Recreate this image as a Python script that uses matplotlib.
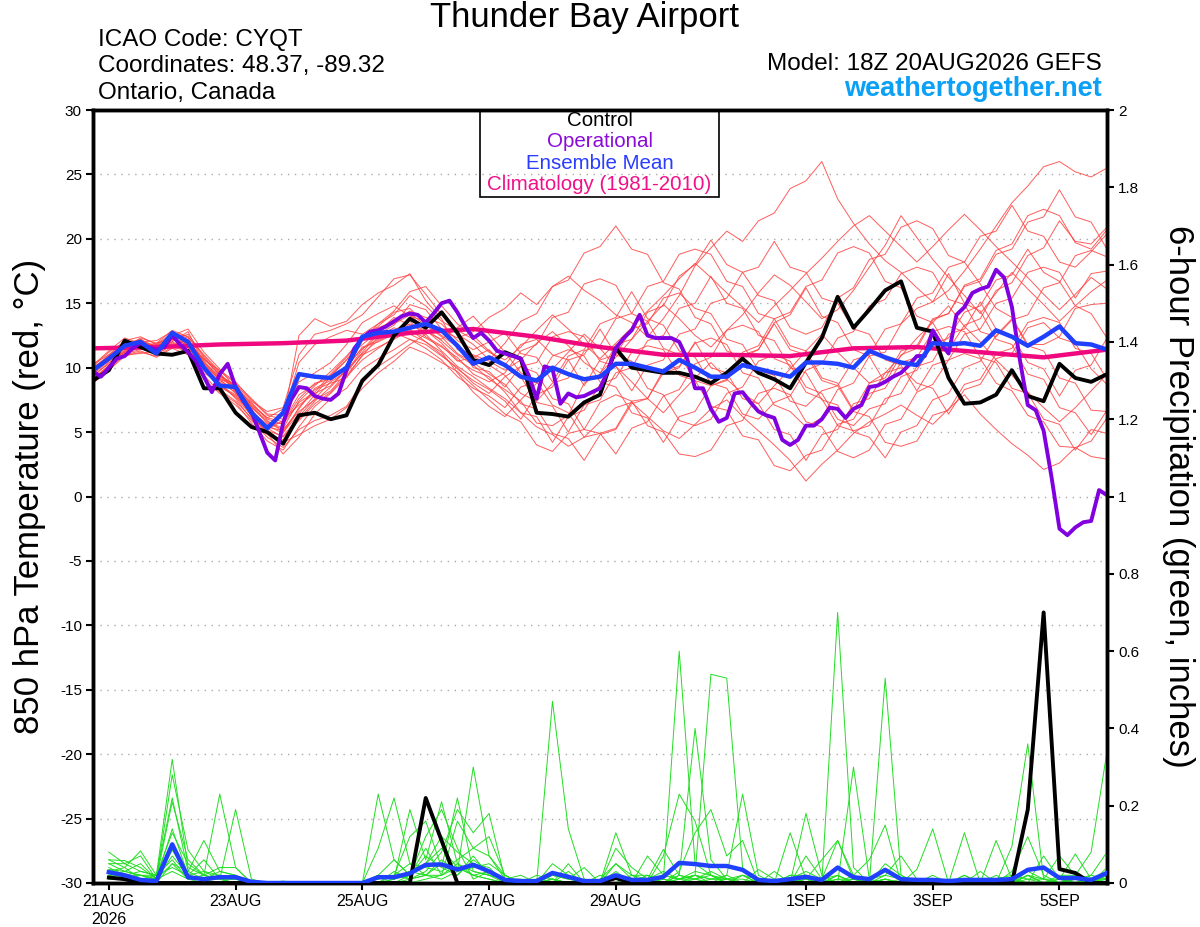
import matplotlib
matplotlib.use("Agg")
import matplotlib.pyplot as plt
from matplotlib.patches import Rectangle

plt.rcParams['font.family'] = ['Liberation Sans', 'DejaVu Sans']
plt.rcParams['axes.unicode_minus'] = False

# time axis: 6-hourly steps from 18Z 20AUG2026 (step 0) to 18Z 5SEP2026 (step 64)
tick_steps = [1, 9, 17, 25, 33, 45, 53, 61]
tick_labels = ["21AUG\n2026", "23AUG", "25AUG", "27AUG", "29AUG", "1SEP", "3SEP", "5SEP"]

# 850 hPa temperature (C), 6-hourly, 65 values
control_t = [9.0, 9.8, 12.1, 11.6, 11.1, 11.0, 11.3, 8.4, 8.4, 6.5, 5.4, 5.0, 4.1,
             6.3, 6.5, 6.0, 6.3, 9.0, 10.2, 12.5, 13.8, 13.1, 14.3, 12.7, 10.6, 10.2,
             11.2, 10.7, 6.5, 6.4, 6.2, 7.3, 7.9, 11.5, 10.0, 9.8, 9.6, 9.6, 9.3,
             8.8, 9.6, 10.7, 9.6, 9.1, 8.4, 10.4, 12.3, 15.5, 13.1, 14.5, 16.0, 16.7,
             13.1, 12.8, 9.2, 7.2, 7.3, 7.9, 9.8, 7.8, 7.4, 10.3, 9.2, 8.9, 9.5]

mean_t = [9.8, 10.7, 11.7, 12.0, 11.1, 12.7, 12.0, 10.0, 8.6, 8.5, 6.5, 5.3, 6.5,
          9.5, 9.3, 9.2, 10.0, 12.4, 12.7, 12.8, 13.1, 13.4, 12.9, 11.7, 10.3, 10.8,
          10.2, 9.3, 9.0, 10.0, 9.5, 9.1, 9.3, 10.3, 10.3, 10.0, 9.7, 10.6, 10.0,
          9.3, 9.3, 10.2, 9.9, 9.6, 9.3, 10.4, 10.4, 10.3, 10.0, 11.3, 10.8, 10.4,
          10.2, 11.9, 11.8, 11.9, 11.7, 12.9, 12.4, 11.7, 12.4, 13.2, 11.9, 11.8, 11.4]

# operational run is 3-hourly, 129 values
oper_t = [9.7, 9.3, 10.0, 10.7, 10.9, 11.5, 11.9, 11.6, 11.4, 11.6, 12.5, 11.8, 11.2,
          10.5, 9.3, 8.1, 9.5, 10.3, 8.5, 7.4, 6.6, 5.0, 3.4, 2.8, 5.7, 7.5,
          8.5, 8.4, 7.8, 7.6, 7.5, 8.0, 9.8, 11.5, 12.3, 12.8, 12.9, 13.2, 13.6,
          14.0, 14.2, 14.1, 13.5, 14.2, 15.0, 15.2, 14.3, 13.2, 12.3, 12.7, 12.1, 11.3,
          11.1, 10.9, 10.7, 9.4, 7.6, 10.1, 9.9, 7.2, 8.0, 7.7, 7.8, 8.1, 8.4,
          9.8, 11.5, 12.3, 12.9, 14.1, 12.5, 12.3, 12.3, 12.3, 12.0, 10.7, 8.4, 8.4,
          6.8, 5.8, 6.1, 8.0, 8.1, 7.3, 6.6, 6.3, 6.1, 4.4, 4.0, 4.4, 5.5,
          5.5, 6.0, 6.9, 6.8, 6.1, 6.8, 7.1, 8.5, 8.6, 8.9, 9.3, 9.6, 10.2,
          10.9, 10.9, 12.9, 11.9, 11.1, 14.1, 14.7, 15.8, 16.1, 16.3, 17.6, 17.0, 14.7,
          10.6, 7.1, 6.7, 5.1, 1.5, -2.5, -3.0, -2.4, -2.0, -1.9, 0.5, 0.1]

# climatology, once a day
clim_steps = [0, 4, 8, 12, 16, 20, 24, 28, 32, 36, 40, 44, 48, 52, 56, 60, 64]
clim_t = [11.5, 11.6, 11.8, 11.9, 12.1, 12.7, 13.0, 12.4, 11.6, 11.0, 11.0, 10.9,
          11.5, 11.6, 11.2, 10.8, 11.4]

members_t = [
    [9.8, 10.9, 11.7, 12.2, 11.4, 12.6, 12.3, 10.2, 9.1, 8.6, 7.2, 6.1, 6.8,
     8.9, 9.6, 10.4, 11.8, 13.5, 14.2, 14.8, 14.0, 13.6, 12.9, 12.3, 12.8, 13.9,
     14.6, 15.8, 14.9, 16.3, 17.1, 16.0, 15.2, 14.1, 13.5, 12.4, 13.8, 15.6, 17.9,
     19.3, 20.6, 19.8, 21.4, 22.0, 23.9, 24.5, 26.0, 23.1, 21.2, 19.6, 18.3, 17.4,
     16.2, 15.1, 16.0, 17.5, 19.2, 21.0, 22.8, 24.1, 25.6, 26.0, 25.2, 24.8, 25.5],
    [9.2, 10.1, 11.0, 11.3, 10.8, 11.5, 11.0, 9.1, 8.0, 7.1, 5.9, 4.6, 3.8,
     5.2, 5.9, 6.3, 7.0, 8.8, 10.1, 10.9, 11.8, 12.6, 11.3, 10.1, 9.3, 8.4,
     7.6, 6.5, 5.4, 4.8, 3.9, 4.6, 5.8, 6.9, 7.3, 6.2, 5.1, 4.5, 5.6,
     6.8, 7.5, 6.2, 5.1, 4.0, 2.8, 1.2, 2.5, 3.6, 4.9, 5.8, 6.4, 7.1,
     6.3, 5.6, 6.8, 7.9, 6.4, 5.2, 4.1, 3.2, 2.1, 2.6, 3.8, 3.1, 2.9],
    [10.1, 11.2, 12.0, 11.6, 11.9, 12.9, 12.4, 10.8, 9.4, 8.2, 6.8, 5.2, 5.9,
     12.5, 13.8, 13.2, 13.6, 14.9, 15.8, 16.4, 17.3, 15.2, 13.8, 11.4, 11.0, 10.5,
     9.8, 10.6, 11.9, 12.8, 11.7, 10.4, 9.6, 10.8, 12.2, 13.6, 14.9, 13.8, 12.5,
     11.6, 12.9, 14.1, 15.8, 17.2, 16.4, 15.1, 13.8, 14.5, 16.0, 17.8, 19.5, 21.8,
     20.1, 18.4, 17.0, 15.6, 14.2, 15.8, 17.4, 16.1, 14.9, 13.6, 14.8, 15.9, 16.8],
    [8.9, 10.0, 11.4, 11.9, 11.0, 11.8, 11.2, 9.6, 8.8, 7.6, 6.0, 4.8, 4.4,
     5.9, 7.2, 8.1, 9.4, 10.9, 12.4, 13.1, 12.6, 12.0, 11.2, 9.6, 8.1, 7.0,
     6.2, 7.5, 8.8, 9.9, 11.2, 12.6, 11.5, 10.1, 8.9, 7.6, 6.5, 7.9, 9.2,
     10.4, 9.1, 8.0, 7.2, 8.6, 9.9, 11.3, 12.6, 11.2, 10.0, 8.8, 9.6, 10.9,
     12.3, 13.5, 14.8, 13.2, 12.0, 10.6, 9.4, 8.1, 6.9, 5.8, 6.9, 8.2, 9.5],
    [9.6, 10.6, 11.2, 11.5, 11.7, 12.2, 11.9, 10.6, 9.8, 8.9, 7.5, 6.3, 6.0,
     7.1, 8.0, 8.6, 9.9, 12.1, 13.0, 13.4, 14.1, 13.0, 12.1, 11.0, 10.2, 9.1,
     8.3, 7.4, 5.7, 5.5, 6.3, 8.8, 9.5, 11.8, 12.2, 14.3, 14.8, 17.1, 18.0,
     19.9, 18.0, 17.4, 15.6, 15.2, 13.1, 12.6, 13.1, 15.4, 16.2, 18.4, 18.8, 20.9,
     21.4, 20.8, 18.7, 18.2, 16.5, 14.6, 13.9, 11.8, 11.8, 12.4, 14.6, 14.9, 15.0],
    [10.3, 11.0, 12.1, 12.4, 11.8, 12.5, 13.0, 11.2, 9.9, 8.4, 7.0, 5.9, 5.0,
     6.4, 7.9, 9.3, 10.6, 11.8, 12.8, 13.9, 13.3, 12.8, 12.2, 13.1, 14.0, 12.6,
     11.2, 9.6, 8.9, 7.1, 6.5, 4.6, 4.9, 5.3, 7.4, 7.6, 9.8, 10.1, 11.9,
     12.3, 11.8, 9.6, 9.2, 7.1, 6.6, 5.4, 6.1, 8.3, 8.8, 10.9, 11.2, 13.4,
     14.6, 15.1, 17.3, 15.0, 14.4, 12.2, 11.8, 9.5, 9.1, 6.9, 6.5, 4.8, 6.7],
    [9.0, 9.9, 11.0, 11.1, 11.3, 12.0, 11.5, 9.9, 8.6, 7.9, 6.4, 5.5, 4.9,
     6.9, 8.3, 8.8, 9.2, 11.0, 11.6, 12.2, 12.9, 12.3, 11.6, 10.8, 9.5, 8.9,
     9.6, 11.3, 11.8, 13.9, 14.3, 16.5, 16.9, 16.4, 14.2, 13.6, 11.5, 11.0, 9.0,
     8.6, 9.1, 11.2, 11.7, 13.8, 14.3, 16.3, 16.8, 18.9, 19.4, 18.9, 16.7, 16.2,
     14.0, 13.5, 11.4, 13.3, 13.8, 16.0, 16.6, 18.7, 19.3, 21.4, 19.8, 19.6, 20.9],
    [9.4, 10.3, 11.5, 11.8, 11.2, 11.9, 11.6, 10.1, 8.3, 7.4, 6.1, 5.0, 4.2,
     4.8, 5.5, 6.0, 6.9, 8.4, 9.6, 10.5, 11.6, 11.1, 10.4, 9.7, 8.6, 7.5,
     6.4, 5.8, 4.0, 3.5, 4.9, 5.2, 7.3, 7.9, 7.4, 5.5, 5.0, 3.3, 3.1,
     3.6, 5.5, 5.9, 8.0, 8.4, 7.9, 5.8, 5.4, 3.5, 3.0, 3.6, 5.6, 6.0,
     8.1, 8.7, 10.6, 11.1, 10.7, 8.8, 8.2, 6.3, 5.8, 3.9, 3.8, 4.3, 6.1],
    [10.0, 10.8, 11.9, 12.0, 12.1, 12.8, 12.0, 10.4, 9.3, 8.7, 7.4, 6.6, 6.9,
     11.0, 12.6, 12.9, 13.4, 14.1, 15.5, 16.9, 17.2, 15.7, 14.1, 12.6, 11.8, 10.6,
     11.9, 13.6, 14.2, 16.3, 16.8, 18.9, 19.4, 21.0, 19.2, 18.8, 16.6, 16.1, 13.9,
     13.4, 11.3, 10.8, 11.4, 13.5, 14.1, 16.2, 14.0, 13.5, 11.4, 10.9, 8.8, 11.0,
     11.5, 13.7, 14.2, 16.4, 16.9, 19.1, 19.6, 21.8, 22.3, 21.8, 19.7, 19.2, 20.7],
    [9.1, 10.2, 11.3, 11.7, 11.6, 12.4, 12.1, 10.0, 8.7, 7.7, 6.3, 4.9, 3.3,
     4.6, 6.4, 7.6, 8.4, 9.9, 10.7, 11.4, 12.2, 11.8, 10.9, 10.0, 8.8, 8.0,
     9.3, 10.1, 9.6, 7.6, 7.2, 5.2, 4.9, 3.3, 5.3, 5.8, 7.8, 8.3, 10.3,
     10.8, 12.9, 13.3, 12.8, 10.7, 10.2, 8.1, 7.6, 5.5, 5.1, 5.5, 7.6, 8.0,
     10.1, 10.5, 12.6, 13.0, 15.1, 13.0, 12.5, 10.4, 9.9, 7.8, 9.8, 10.2, 12.3],
    [9.7, 10.7, 11.6, 12.3, 11.9, 12.3, 11.7, 10.7, 9.5, 8.4, 6.9, 5.8, 5.3,
     7.4, 8.6, 9.7, 10.9, 12.3, 13.1, 13.6, 14.4, 13.9, 13.4, 12.1, 11.4, 12.0,
     12.7, 11.1, 10.8, 8.9, 10.9, 11.4, 13.4, 13.9, 15.9, 13.8, 13.3, 11.3, 10.8,
     8.8, 8.4, 6.4, 6.0, 7.3, 7.8, 9.8, 10.3, 12.3, 12.8, 14.8, 15.3, 17.3,
     17.8, 17.4, 15.3, 14.9, 12.8, 12.4, 13.7, 14.1, 16.2, 16.6, 18.7, 19.1, 18.6],
    [9.3, 10.4, 11.1, 11.4, 11.5, 12.1, 12.6, 10.9, 9.6, 8.1, 6.6, 5.6, 5.7,
     7.6, 8.8, 9.1, 10.1, 11.5, 12.2, 12.9, 13.6, 12.4, 11.7, 10.5, 10.8, 11.4,
     10.1, 9.3, 7.3, 7.0, 5.0, 7.1, 7.5, 9.6, 10.0, 12.1, 12.5, 14.6, 15.0,
     17.1, 15.0, 14.6, 12.5, 12.1, 10.0, 9.6, 7.5, 7.1, 5.0, 4.6, 3.0, 5.0,
     5.5, 7.5, 8.0, 10.0, 10.5, 12.5, 13.8, 11.7, 11.3, 9.2, 8.8, 6.7, 6.6],
    [9.9, 11.0, 11.8, 12.1, 11.6, 12.4, 12.2, 10.5, 9.2, 8.5, 7.0, 5.7, 5.2,
     6.6, 7.5, 8.2, 9.6, 11.2, 12.6, 13.3, 14.9, 14.5, 13.0, 11.8, 10.0, 9.7,
     8.5, 10.1, 10.4, 12.4, 12.8, 12.4, 10.5, 10.1, 8.2, 10.2, 10.6, 12.6, 13.0,
     15.0, 15.4, 17.4, 17.8, 19.8, 17.8, 17.4, 15.4, 15.0, 13.0, 12.6, 10.6, 10.2,
     8.2, 10.2, 10.6, 12.6, 13.0, 15.0, 15.4, 17.4, 17.8, 17.4, 15.4, 17.3, 17.5],
    [8.8, 9.8, 10.9, 11.2, 10.9, 11.6, 11.3, 9.4, 8.1, 7.3, 5.7, 4.3, 3.6,
     5.4, 7.0, 8.0, 9.3, 10.6, 11.5, 12.3, 13.0, 12.0, 11.0, 9.9, 9.0, 8.3,
     7.4, 6.0, 7.9, 8.5, 10.6, 11.0, 13.0, 11.0, 10.5, 8.4, 7.9, 5.9, 5.5,
     6.0, 8.0, 8.5, 10.5, 11.0, 10.5, 8.5, 8.0, 6.0, 5.5, 6.8, 7.2, 9.3,
     9.8, 11.8, 12.3, 14.3, 14.8, 16.8, 17.2, 19.2, 17.4, 16.7, 14.8, 14.2, 12.3],
    [10.2, 11.3, 12.3, 11.9, 11.8, 12.7, 12.4, 11.0, 9.7, 8.8, 7.6, 6.4, 6.3,
     10.4, 11.8, 12.4, 12.9, 12.6, 13.4, 14.1, 15.6, 14.8, 13.6, 12.9, 12.2, 11.2,
     10.6, 11.6, 12.9, 14.1, 13.0, 11.8, 10.7, 11.9, 13.1, 14.4, 15.6, 16.9, 18.1,
     17.0, 15.8, 14.7, 13.5, 14.8, 16.0, 17.3, 18.5, 19.8, 21.0, 21.8, 20.6, 19.4,
     18.2, 19.4, 20.7, 21.9, 20.7, 19.4, 18.2, 17.0, 15.7, 14.5, 15.7, 17.0, 16.1],
    [9.5, 10.5, 11.3, 11.5, 11.1, 11.7, 11.4, 9.8, 8.5, 7.8, 6.5, 5.3, 4.6,
     6.0, 7.4, 8.5, 9.8, 11.1, 12.1, 12.7, 12.2, 11.5, 10.6, 9.3, 8.4, 7.8,
     6.9, 8.5, 8.9, 10.9, 11.4, 10.9, 8.9, 8.5, 6.5, 6.1, 4.2, 6.2, 6.6,
     8.6, 9.0, 11.0, 11.4, 13.4, 11.4, 11.0, 9.0, 8.6, 6.6, 6.2, 4.2, 3.9,
     4.3, 6.3, 6.7, 8.7, 9.1, 11.1, 11.5, 13.5, 13.9, 13.5, 11.5, 11.1, 9.1],
    [9.8, 10.6, 11.6, 12.0, 11.3, 12.0, 12.8, 10.3, 9.0, 8.3, 7.3, 6.0, 5.6,
     7.3, 8.1, 9.5, 10.8, 12.4, 13.2, 14.3, 14.6, 13.4, 12.5, 11.6, 10.9, 10.2,
     9.4, 8.0, 7.4, 8.8, 9.2, 11.3, 11.7, 13.8, 14.2, 16.3, 16.7, 18.8, 19.2,
     18.8, 16.7, 16.3, 14.2, 13.8, 11.7, 11.3, 9.2, 8.8, 6.7, 8.8, 9.2, 11.3,
     11.7, 13.8, 14.2, 16.3, 16.7, 18.8, 19.2, 21.3, 21.7, 23.8, 21.7, 21.3, 19.2],
    [9.2, 10.0, 11.2, 11.6, 11.4, 12.2, 11.8, 10.4, 9.1, 8.0, 6.7, 5.4, 5.1,
     6.8, 8.4, 9.0, 10.0, 11.6, 12.0, 12.6, 13.4, 12.9, 11.9, 10.6, 9.8, 9.3,
     8.1, 6.5, 6.2, 4.2, 6.2, 6.7, 8.7, 9.2, 11.2, 11.7, 11.4, 9.4, 9.0,
     7.0, 6.7, 4.7, 4.4, 2.4, 2.0, 3.2, 3.6, 5.6, 6.0, 8.0, 8.4, 10.4,
     10.8, 12.8, 13.2, 12.8, 10.8, 10.4, 8.4, 8.0, 6.0, 5.6, 3.6, 5.2, 4.9],
    [9.6, 10.8, 11.5, 11.9, 11.7, 12.5, 12.0, 10.7, 9.4, 8.6, 7.1, 6.1, 5.8,
     7.9, 8.7, 9.4, 10.6, 12.2, 13.4, 14.4, 15.9, 16.3, 14.8, 13.4, 12.5, 11.3,
     10.2, 11.8, 12.2, 11.0, 10.6, 8.6, 10.6, 11.0, 13.0, 13.4, 15.4, 15.8, 14.6,
     14.2, 12.2, 11.8, 9.8, 9.4, 7.4, 7.0, 8.2, 8.6, 10.6, 11.0, 13.0, 13.4,
     15.4, 15.8, 17.8, 18.2, 20.2, 20.6, 22.6, 20.6, 20.2, 18.2, 17.8, 19.0, 20.4],
    [10.0, 10.9, 11.8, 12.2, 11.6, 12.3, 11.9, 10.0, 8.9, 8.1, 6.2, 5.1, 4.7,
     6.2, 7.6, 8.9, 9.7, 11.4, 12.7, 13.7, 14.2, 13.3, 12.4, 11.1, 10.4, 9.5,
     8.7, 7.2, 6.8, 4.9, 4.5, 2.8, 4.8, 5.2, 7.2, 7.6, 9.6, 10.0, 12.0,
     10.0, 9.6, 7.6, 7.2, 5.2, 4.8, 2.8, 4.8, 5.2, 7.2, 7.6, 9.6, 10.0,
     8.8, 8.4, 6.4, 8.3, 8.7, 10.7, 11.1, 13.1, 13.5, 12.3, 11.9, 9.9, 8.7],
]

# 6-hour precipitation (inches), steps 1..64
control_p = [0.014, 0.01, 0, 0, 0, 0, 0, 0, 0, 0, 0, 0, 0, 0, 0, 0,
             0, 0, 0, 0, 0.22, 0.11, 0, 0, 0, 0, 0, 0, 0, 0, 0, 0,
             0.013, 0, 0, 0, 0, 0, 0, 0, 0, 0, 0, 0, 0, 0, 0, 0,
             0, 0, 0, 0, 0, 0, 0, 0, 0, 0, 0.19, 0.70, 0.036, 0.026, 0, 0]
mean_p = [0.028, 0.02, 0.008, 0.005, 0.10, 0.015, 0.01, 0.015, 0.015, 0.003, 0, 0, 0, 0, 0, 0,
          0, 0.015, 0.015, 0.025, 0.047, 0.048, 0.035, 0.047, 0.03, 0.008, 0.005, 0.005, 0.026, 0.016, 0.005, 0.005,
          0.02, 0.008, 0.008, 0.016, 0.052, 0.049, 0.044, 0.044, 0.034, 0.008, 0.005, 0.01, 0.016, 0.008, 0.04, 0.015,
          0.01, 0.034, 0.01, 0.008, 0.008, 0.005, 0.008, 0.008, 0.008, 0.01, 0.034, 0.04, 0.013, 0.013, 0.008, 0.026]

members_p = [
    [0.08, 0.05, 0.03, 0.02, 0.32, 0.04, 0.02, 0.01, 0, 0, 0, 0, 0, 0, 0, 0,
     0, 0.23, 0.06, 0.02, 0.05, 0.09, 0.04, 0.02, 0.01, 0, 0, 0, 0.05, 0.02, 0, 0,
     0.13, 0.02, 0, 0.01, 0.60, 0.05, 0.02, 0, 0.02, 0, 0, 0.01, 0.03, 0.01, 0.02, 0,
     0, 0.05, 0.02, 0, 0.01, 0, 0.02, 0, 0, 0.03, 0.12, 0.02, 0, 0.01, 0.02, 0.08],
    [0.06, 0.058, 0.04, 0.01, 0.28, 0.085, 0.03, 0.01, 0, 0, 0, 0, 0, 0, 0, 0,
     0, 0.09, 0.22, 0.05, 0.02, 0.01, 0.03, 0.30, 0.07, 0.02, 0, 0, 0.01, 0, 0, 0,
     0.05, 0.01, 0, 0, 0.02, 0.40, 0.06, 0.01, 0, 0, 0, 0, 0.18, 0.02, 0, 0.01,
     0, 0.02, 0.07, 0.01, 0, 0, 0.01, 0, 0.01, 0, 0.03, 0.01, 0.07, 0.02, 0, 0.01],
    [0.06, 0.04, 0.083, 0.02, 0.22, 0.03, 0.11, 0.03, 0.02, 0, 0, 0, 0, 0, 0, 0,
     0, 0.02, 0.01, 0.19, 0.06, 0.21, 0.05, 0.02, 0.01, 0, 0, 0, 0.47, 0.14, 0.01, 0,
     0.02, 0, 0.07, 0.02, 0.01, 0.02, 0.54, 0.53, 0.04, 0, 0, 0, 0.01, 0, 0.02, 0,
     0, 0, 0, 0.035, 0.14, 0, 0, 0, 0, 0, 0.02, 0, 0, 0, 0.01, 0],
    [0.05, 0.05, 0.07, 0.01, 0.21, 0.06, 0.02, 0.23, 0.04, 0, 0, 0, 0, 0, 0, 0,
     0, 0, 0.02, 0.12, 0.16, 0.04, 0.22, 0.03, 0.02, 0.01, 0, 0, 0.02, 0.01, 0.04, 0,
     0.09, 0.04, 0.01, 0.087, 0.02, 0.01, 0, 0.02, 0.23, 0.02, 0, 0.13, 0.01, 0, 0, 0.30,
     0.01, 0, 0, 0, 0, 0, 0.13, 0, 0, 0, 0.02, 0, 0.01, 0.075, 0.01, 0],
    [0.035, 0.03, 0.02, 0.01, 0.14, 0.02, 0.06, 0.01, 0.19, 0.01, 0, 0.005, 0, 0, 0, 0,
     0, 0, 0, 0.02, 0.12, 0.19, 0.09, 0.01, 0.03, 0, 0, 0, 0.01, 0, 0, 0.02,
     0.01, 0, 0, 0.07, 0.23, 0.16, 0.02, 0, 0, 0.035, 0.01, 0, 0.01, 0.06, 0.11, 0.01,
     0, 0.53, 0.02, 0, 0, 0, 0, 0.03, 0, 0, 0, 0.07, 0.01, 0, 0.01, 0],
    [0.03, 0.02, 0.02, 0.02, 0.13, 0.05, 0.02, 0.04, 0.04, 0, 0, 0, 0, 0, 0, 0,
     0, 0.02, 0.06, 0.02, 0.09, 0.02, 0.16, 0.09, 0.12, 0.02, 0, 0, 0, 0.05, 0, 0,
     0, 0.02, 0.02, 0, 0.03, 0.13, 0.19, 0.07, 0.11, 0, 0.03, 0, 0.07, 0.01, 0, 0.02,
     0.06, 0.15, 0, 0, 0.02, 0, 0, 0, 0.11, 0.01, 0, 0, 0, 0.02, 0.08, 0.34],
    [0.02, 0.01, 0.01, 0.01, 0.085, 0.02, 0.01, 0.03, 0.02, 0, 0, 0, 0, 0, 0, 0,
     0, 0, 0.03, 0.01, 0.03, 0.08, 0.19, 0.13, 0.18, 0.01, 0.02, 0, 0.02, 0.01, 0, 0,
     0.03, 0, 0.02, 0.01, 0, 0.02, 0.01, 0.02, 0, 0.01, 0, 0.02, 0.01, 0, 0.70, 0.04,
     0, 0.01, 0, 0.01, 0, 0, 0, 0, 0, 0.095, 0.36, 0.01, 0, 0, 0, 0.02],
    [0.01, 0.02, 0.01, 0.02, 0.06, 0.01, 0.02, 0.01, 0.01, 0, 0, 0, 0, 0, 0, 0,
     0, 0.01, 0.02, 0.05, 0.04, 0.03, 0.06, 0.09, 0.07, 0.01, 0, 0.02, 0.01, 0, 0.01, 0,
     0.01, 0.01, 0, 0.02, 0.01, 0.01, 0.02, 0.01, 0.01, 0, 0, 0, 0, 0.01, 0.11, 0.02,
     0, 0.01, 0, 0, 0, 0, 0, 0, 0.01, 0, 0, 0, 0.02, 0.02, 0.01, 0.01],
    [0.02, 0.03, 0.02, 0.01, 0.05, 0.03, 0.01, 0.02, 0.01, 0, 0, 0, 0, 0, 0, 0,
     0, 0.02, 0.01, 0.03, 0.05, 0.12, 0.08, 0.05, 0.04, 0, 0, 0, 0, 0.03, 0, 0,
     0.02, 0, 0.01, 0.03, 0.01, 0, 0.01, 0.01, 0.02, 0.01, 0, 0.02, 0.02, 0, 0.01, 0.01,
     0.01, 0.02, 0.01, 0, 0, 0, 0.02, 0, 0.01, 0.02, 0.01, 0.01, 0.01, 0, 0.02, 0.01],
    [0.04, 0.02, 0.03, 0.02, 0.04, 0.02, 0.03, 0.02, 0.01, 0, 0, 0, 0, 0, 0, 0,
     0, 0.01, 0.02, 0.01, 0.02, 0.02, 0.04, 0.02, 0.03, 0.01, 0.01, 0, 0.01, 0, 0, 0,
     0, 0.01, 0, 0.02, 0.01, 0.02, 0, 0.01, 0, 0, 0.01, 0, 0, 0, 0, 0.01,
     0, 0.01, 0, 0.01, 0, 0, 0, 0, 0, 0.01, 0, 0, 0, 0.01, 0, 0.02],
    [0.03, 0.04, 0.01, 0.01, 0.03, 0.01, 0.01, 0.01, 0, 0, 0, 0, 0, 0, 0, 0,
     0, 0, 0.01, 0.02, 0.07, 0.04, 0.02, 0.06, 0.03, 0, 0, 0.01, 0, 0, 0, 0.01,
     0.05, 0.02, 0.01, 0, 0.01, 0.03, 0.02, 0, 0.02, 0, 0, 0.01, 0, 0, 0.02, 0,
     0.01, 0, 0, 0, 0.01, 0, 0, 0, 0.02, 0, 0.02, 0.01, 0, 0, 0.01, 0.01],
    [0.05, 0.03, 0.05, 0.01, 0.10, 0.01, 0.02, 0.01, 0.01, 0, 0, 0, 0, 0, 0, 0,
     0, 0, 0, 0.01, 0.02, 0.06, 0.03, 0.04, 0.05, 0.02, 0, 0, 0, 0, 0, 0,
     0.01, 0, 0, 0, 0.02, 0.01, 0.03, 0.01, 0, 0, 0.01, 0, 0, 0.01, 0, 0.01,
     0, 0.01, 0, 0, 0, 0, 0.01, 0, 0, 0, 0.01, 0, 0.01, 0, 0, 0.04],
    [0.02, 0.02, 0.01, 0, 0.05, 0.01, 0, 0, 0, 0, 0, 0, 0, 0, 0, 0,
     0, 0, 0, 0, 0.01, 0.02, 0.05, 0.03, 0.02, 0, 0, 0, 0, 0, 0.01, 0,
     0, 0, 0, 0.01, 0, 0.01, 0, 0, 0, 0, 0, 0, 0.01, 0, 0, 0,
     0, 0, 0.01, 0, 0, 0, 0, 0, 0, 0.01, 0, 0, 0, 0, 0, 0],
    [0.01, 0.01, 0.02, 0.01, 0.07, 0.02, 0.01, 0, 0, 0, 0, 0, 0, 0, 0, 0,
     0, 0, 0.01, 0.03, 0.02, 0.05, 0.02, 0.07, 0.02, 0.01, 0, 0, 0.01, 0, 0, 0,
     0, 0, 0, 0, 0.01, 0.02, 0.01, 0.01, 0, 0, 0, 0.01, 0, 0, 0.01, 0,
     0, 0, 0, 0, 0, 0.01, 0, 0, 0, 0, 0.02, 0, 0, 0.01, 0, 0],
]

steps = list(range(len(control_t)))
oper_steps = [j / 2 for j in range(len(oper_t))]


def p_steps(vals):
    # precipitation totals start with the period ending 00Z 21AUG (step 1)
    return list(range(1, len(vals) + 1))


fig = plt.figure(figsize=(12, 9.27), dpi=100)
ax = fig.add_axes([93 / 1200, 1 - 883 / 927, 1014 / 1200, 773 / 927])
ax2 = ax.twinx()

for m in members_t:
    ax.plot(steps, m, color='#ff4040', lw=0.7, alpha=0.85, zorder=2)
ax.plot(clim_steps, clim_t, color='#f0087f', lw=3.2, zorder=3)
ax.plot(steps, control_t, color='black', lw=2.8, zorder=4)
ax.plot(oper_steps, oper_t, color='#8000e0', lw=2.8, zorder=5)
ax.plot(steps, mean_t, color='#2040ff', lw=3.2, zorder=6)

for m in members_p:
    ax2.plot(p_steps(m), m, color='#22dd22', lw=0.7, zorder=2)
ax2.plot(p_steps(control_p), control_p, color='black', lw=2.8, zorder=4)
ax2.plot(p_steps(mean_p), mean_p, color='#2040ff', lw=3.2, zorder=5)

ax.set_xlim(0, 64)
ax.set_ylim(-30, 30)
ax2.set_ylim(0, 2)
ax.set_yticks(range(-30, 31, 5))
ax2.set_yticks([i / 10 for i in range(0, 21, 2)])
ax2.set_yticklabels(['%g' % (i / 10) for i in range(0, 21, 2)])
ax.set_xticks(tick_steps)
ax.set_xticklabels(tick_labels)
for y in range(-25, 30, 5):
    ax.axhline(y, color='#aaaaaa', lw=1, ls=(0, (1, 4)), zorder=1)

for a in (ax, ax2):
    for s in a.spines.values():
        s.set_linewidth(2.5)
ax.tick_params(axis='y', direction='out', length=5, width=1.5, labelsize=11, pad=3)
ax.tick_params(axis='x', direction='out', length=5, width=1.5, labelsize=11.5, pad=3)
ax2.tick_params(axis='y', direction='out', length=5, width=1.5, labelsize=11, pad=3)

# legend box
ax.add_patch(Rectangle((0.3817, 0.8875), 0.2357, 0.1125, transform=ax.transAxes,
                       fill=False, edgecolor='black', lw=1.2, zorder=10, clip_on=False))
leg = [("Control", 'black', 0.987), ("Operational", '#8a0ad8', 0.959),
       ("Ensemble Mean", '#2a3cff', 0.931), ("Climatology (1981-2010)", '#f0108a', 0.903)]
for txt, col, yy in leg:
    ax.text(0.4996, yy, txt, color=col, transform=ax.transAxes, ha='center', va='center',
            fontsize=14.8, zorder=11)

fig.text(0.4875, 0.981, "Thunder Bay Airport", ha='center', va='center', fontsize=25)
fig.text(0.0817, 0.957, "ICAO Code: CYQT", ha='left', va='center', fontsize=17.5)
fig.text(0.0817, 0.929, "Coordinates: 48.37, -89.32", ha='left', va='center', fontsize=17.5)
fig.text(0.0817, 0.9, "Ontario, Canada", ha='left', va='center', fontsize=17.5)
fig.text(0.918, 0.931, "Model: 18Z 20AUG2026 GEFS", ha='right', va='center', fontsize=17.5)
fig.text(0.918, 0.904, "weathertogether.net", ha='right', va='center', fontsize=19.5,
         fontweight='bold', color='#0aa0f5')
fig.text(0.025, 0.465, "850 hPa Temperature (red, °C)", rotation=90, ha='center',
         va='center', fontsize=25)
fig.text(0.982, 0.465, "6-hour Precipitation (green, inches)", rotation=-90, ha='center',
         va='center', fontsize=25)

fig.savefig("out.png", dpi=100)
